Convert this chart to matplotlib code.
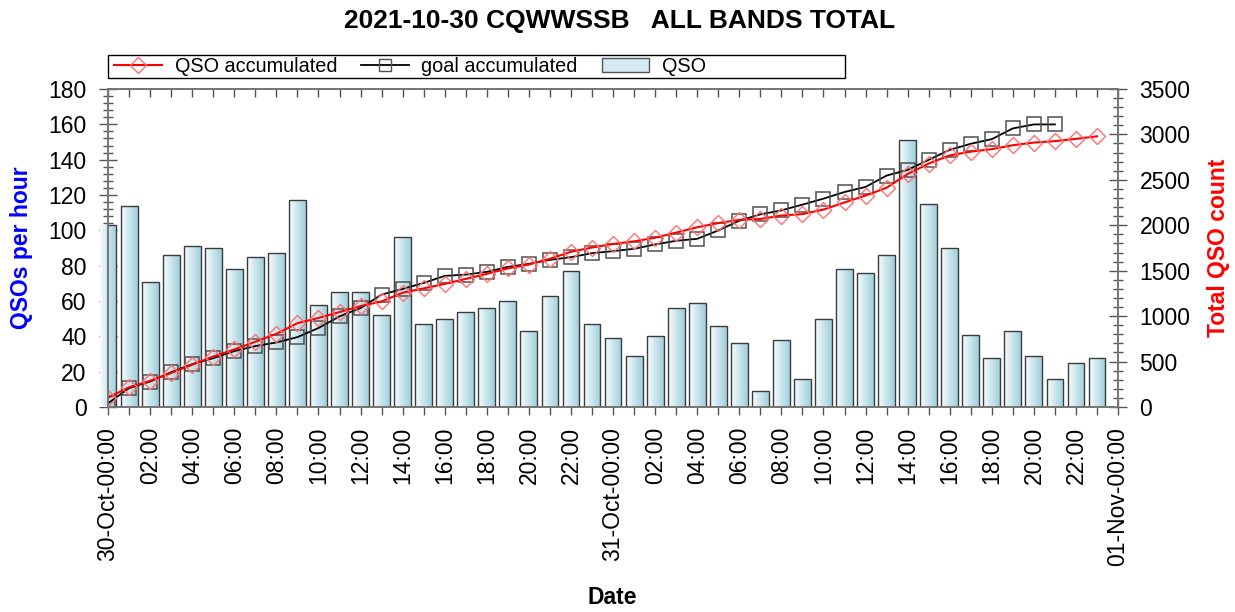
import numpy as np
import matplotlib
matplotlib.use('Agg')
import matplotlib.pyplot as plt
from matplotlib.lines import Line2D
from matplotlib.patches import Patch, Rectangle
from matplotlib.ticker import MultipleLocator

plt.rcParams['font.family'] = ['Liberation Sans', 'DejaVu Sans']

# hourly QSO counts, 30-Oct 00:00 .. 31-Oct 23:00
hours = np.arange(48)
qso_per_hour = [103, 114, 71, 86, 91, 90, 78, 85, 87, 117, 58, 65,
                65, 52, 96, 47, 50, 54, 56, 60, 43, 63, 77, 47,
                39, 29, 40, 56, 59, 46, 36, 9, 38, 16, 50, 78,
                76, 86, 151, 115, 90, 41, 28, 43, 29, 16, 25, 28]

qso_accumulated = [103, 217, 288, 374, 465, 555, 633, 718, 805, 922, 980, 1045,
                   1110, 1162, 1258, 1305, 1355, 1409, 1465, 1525, 1568, 1631, 1708, 1755,
                   1794, 1823, 1863, 1919, 1978, 2024, 2060, 2069, 2107, 2123, 2173, 2251,
                   2327, 2413, 2564, 2679, 2769, 2810, 2838, 2881, 2910, 2926, 2951, 2979]

# goal line stops at 31-Oct 21:00
goal_hours = np.arange(46)
goal_accumulated = [40, 208, 280, 383, 471, 537, 615, 670, 710, 769, 869, 997,
                    1089, 1237, 1299, 1365, 1443, 1457, 1487, 1542, 1575, 1619, 1649, 1693,
                    1715, 1741, 1789, 1829, 1851, 1943, 2050, 2120, 2164, 2227, 2293, 2366,
                    2422, 2547, 2609, 2720, 2830, 2897, 2948, 3066, 3110, 3110]

even_labels = ['30-Oct-00:00', '02:00', '04:00', '06:00', '08:00', '10:00', '12:00',
               '14:00', '16:00', '18:00', '20:00', '22:00',
               '31-Oct-00:00', '02:00', '04:00', '06:00', '08:00', '10:00', '12:00',
               '14:00', '16:00', '18:00', '20:00', '22:00', '01-Nov-00:00']

fig = plt.figure(figsize=(12.35, 6.12), dpi=100)
ax = fig.add_axes([0.0875, 0.335, 0.8178, 0.5196])

# bars with a left-to-right gradient fill
bars = ax.bar(hours, qso_per_hour, width=0.8, facecolor='none',
              edgecolor='#3c3c3c', linewidth=1.0, zorder=3)
left_c = np.array([0.97, 0.99, 0.995])
right_c = np.array([0.62, 0.81, 0.86])
t = np.linspace(0, 1, 64)
grad = (left_c[None, :] + (right_c - left_c)[None, :] * t[:, None])[None, :, :]
for rect in bars:
    x0, w, h = rect.get_x(), rect.get_width(), rect.get_height()
    im = ax.imshow(grad, extent=[x0, x0 + w, 0, h], aspect='auto',
                   interpolation='bilinear', zorder=2)
    im.set_clip_path(rect)

ax.set_xlim(0, 48)
ax.set_ylim(0, 180)

ax2 = ax.twinx()
ax2.plot(goal_hours, goal_accumulated, color='black', lw=1.3, marker='s', ms=10,
         mfc='none', mec='#505050', mew=1.1)
ax2.plot(hours, qso_accumulated, color='red', lw=1.5, marker='D', ms=8,
         mfc='none', mec='#ff7070', mew=1.0)
ax2.set_ylim(0, 3500)

# x ticks
ax.set_xticks(np.arange(49))
ax.set_xticklabels([even_labels[i // 2] if i % 2 == 0 else '' for i in range(49)])
ax.tick_params(axis='x', direction='inout', length=11, width=1, color='#555555',
               labelsize=16.5, pad=9, labelrotation=90)
ax2.xaxis.set_visible(True)
ax2.tick_params(axis='x', bottom=False, top=True, labelbottom=False, labeltop=False,
                direction='in', length=6, width=1, color='#555555')

# left y ticks
ax.set_yticks(np.arange(0, 181, 20))
ax.yaxis.set_minor_locator(MultipleLocator(4))
ax.tick_params(axis='y', which='major', direction='inout', length=13, width=1,
               color='#555555', labelsize=16.5, pad=9)
ax.tick_params(axis='y', which='minor', direction='inout', length=7, width=1,
               color='#555555')

# right y ticks
ax2.set_yticks(np.arange(0, 3501, 500))
ax2.yaxis.set_minor_locator(MultipleLocator(100))
ax2.tick_params(axis='y', which='major', direction='inout', length=13, width=1,
                color='#555555', labelsize=16.5, pad=9)
ax2.tick_params(axis='y', which='minor', direction='inout', length=7, width=1,
                color='#555555')

for a in (ax, ax2):
    for s in a.spines.values():
        s.set_color('#777777')
        s.set_linewidth(1.3)

# legend: entries packed to the left inside a wider box
handles = [Line2D([], [], color='red', lw=1.5, marker='D', ms=8, mfc='none', mec='#ff7070'),
           Line2D([], [], color='black', lw=1.3, marker='s', ms=9, mfc='none', mec='#505050'),
           Patch(facecolor='#d3eaf0', edgecolor='#555555')]
fig.legend(handles, ['QSO accumulated', 'goal accumulated', 'QSO'],
           loc='center left', bbox_to_anchor=(108 / 1235, 1 - 66.5 / 612),
           ncol=3, fontsize=14.3, frameon=False, borderpad=0.3, borderaxespad=0,
           handlelength=2.4, handletextpad=0.65, columnspacing=1.2)
fig.patches.append(Rectangle((108 / 1235, 1 - 78 / 612), 737 / 1235, 23 / 612,
                             transform=fig.transFigure, fill=False,
                             edgecolor='black', linewidth=1.0))

fig.text(0.502, 0.965, '2021-10-30 CQWWSSB   ALL BANDS TOTAL', ha='center', va='center',
         fontsize=19, fontweight='bold')
fig.text(22 / 1235, 1 - 248 / 612, 'QSOs per hour', rotation=90, ha='center', va='center',
         fontsize=16.5, fontweight='bold', color='blue')
fig.text(1218 / 1235, 1 - 248 / 612, 'Total QSO count', rotation=90, ha='center', va='center',
         fontsize=16.5, fontweight='bold', color='red')
fig.text(612 / 1235, 1 - 597 / 612, 'Date', ha='center', va='center',
         fontsize=16.5, fontweight='bold')

fig.savefig('out.png', dpi=100)
